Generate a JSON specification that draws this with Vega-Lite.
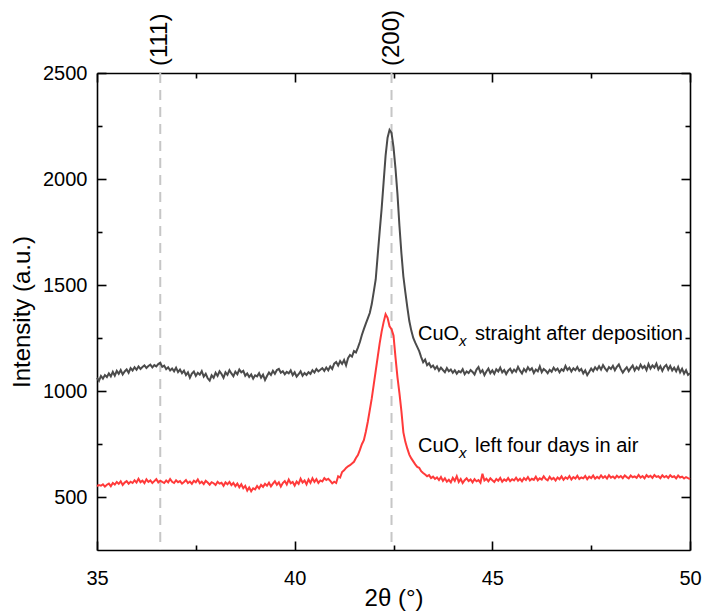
{
"$schema": "https://vega.github.io/schema/vega-lite/v6.json",
"width": 593, "height": 477, "autosize": "none",
"padding": {"left": 97, "top": 73, "right": 12, "bottom": 63},
"background": "white",
"config": {"font": "Liberation Sans", "view": {"stroke": null},
 "axis": {"grid": false, "domainColor": "black", "domainWidth": 1.6, "tickColor": "black", "tickWidth": 1.6, "labelColor": "black", "labelFontSize": 20, "titleFontSize": 24, "titleFontWeight": "normal", "titleColor": "black", "labelFlush": false}},
"resolve": {"axis": {"x": "independent", "y": "independent"}},
"datasets": {
"peaks": [{"x": 36.6, "label": "(111)"}, {"x": 42.45, "label": "(200)"}],
"notes": [{"x": 43.12, "y": 1239, "a": "CuO", "b": "x", "c": "straight after deposition"}, {"x": 43.12, "y": 713, "a": "CuO", "b": "x", "c": "left four days in air"}],
"xrd": [
{"x":35.00,"k":1062,"r":552},{"x":35.05,"k":1048,"r":556},{"x":35.10,"k":1071,"r":553},{"x":35.15,"k":1058,"r":560},{"x":35.20,"k":1075,"r":549},
{"x":35.25,"k":1066,"r":558},{"x":35.30,"k":1083,"r":563},{"x":35.35,"k":1069,"r":551},{"x":35.40,"k":1090,"r":566},{"x":35.45,"k":1072,"r":559},
{"x":35.50,"k":1095,"r":571},{"x":35.55,"k":1081,"r":562},{"x":35.60,"k":1099,"r":574},{"x":35.65,"k":1078,"r":557},{"x":35.70,"k":1092,"r":568},
{"x":35.75,"k":1102,"r":575},{"x":35.80,"k":1086,"r":563},{"x":35.85,"k":1108,"r":572},{"x":35.90,"k":1097,"r":566},{"x":35.95,"k":1112,"r":579},
{"x":36.00,"k":1100,"r":568},{"x":36.05,"k":1116,"r":586},{"x":36.10,"k":1104,"r":570},{"x":36.15,"k":1113,"r":577},{"x":36.20,"k":1121,"r":565},
{"x":36.25,"k":1109,"r":583},{"x":36.30,"k":1118,"r":571},{"x":36.35,"k":1124,"r":578},{"x":36.40,"k":1111,"r":566},{"x":36.45,"k":1122,"r":575},
{"x":36.50,"k":1116,"r":584},{"x":36.55,"k":1127,"r":569},{"x":36.60,"k":1133,"r":577},{"x":36.65,"k":1114,"r":571},{"x":36.70,"k":1120,"r":566},
{"x":36.75,"k":1103,"r":578},{"x":36.80,"k":1112,"r":569},{"x":36.85,"k":1097,"r":585},{"x":36.90,"k":1106,"r":572},{"x":36.95,"k":1093,"r":566},
{"x":37.00,"k":1110,"r":579},{"x":37.05,"k":1089,"r":570},{"x":37.10,"k":1101,"r":575},{"x":37.15,"k":1084,"r":563},{"x":37.20,"k":1096,"r":571},
{"x":37.25,"k":1075,"r":580},{"x":37.30,"k":1088,"r":566},{"x":37.35,"k":1063,"r":573},{"x":37.40,"k":1082,"r":562},{"x":37.45,"k":1092,"r":577},
{"x":37.50,"k":1071,"r":569},{"x":37.55,"k":1086,"r":583},{"x":37.60,"k":1077,"r":565},{"x":37.65,"k":1094,"r":572},{"x":37.70,"k":1068,"r":561},
{"x":37.75,"k":1081,"r":576},{"x":37.80,"k":1060,"r":568},{"x":37.85,"k":1049,"r":558},{"x":37.90,"k":1074,"r":570},{"x":37.95,"k":1062,"r":565},
{"x":38.00,"k":1086,"r":557},{"x":38.05,"k":1071,"r":572},{"x":38.10,"k":1093,"r":563},{"x":38.15,"k":1080,"r":567},{"x":38.20,"k":1062,"r":553},
{"x":38.25,"k":1088,"r":569},{"x":38.30,"k":1076,"r":560},{"x":38.35,"k":1098,"r":571},{"x":38.40,"k":1083,"r":556},{"x":38.45,"k":1070,"r":566},
{"x":38.50,"k":1091,"r":551},{"x":38.55,"k":1079,"r":563},{"x":38.60,"k":1101,"r":546},{"x":38.65,"k":1088,"r":560},{"x":38.70,"k":1095,"r":541},
{"x":38.75,"k":1072,"r":552},{"x":38.80,"k":1083,"r":530},{"x":38.85,"k":1066,"r":545},{"x":38.90,"k":1078,"r":527},{"x":38.95,"k":1058,"r":541},
{"x":39.00,"k":1074,"r":536},{"x":39.05,"k":1069,"r":552},{"x":39.10,"k":1084,"r":540},{"x":39.15,"k":1063,"r":557},{"x":39.20,"k":1077,"r":548},
{"x":39.25,"k":1052,"r":562},{"x":39.30,"k":1071,"r":553},{"x":39.35,"k":1087,"r":567},{"x":39.40,"k":1076,"r":550},{"x":39.45,"k":1095,"r":563},
{"x":39.50,"k":1081,"r":574},{"x":39.55,"k":1099,"r":558},{"x":39.60,"k":1104,"r":569},{"x":39.65,"k":1086,"r":549},{"x":39.70,"k":1093,"r":566},
{"x":39.75,"k":1079,"r":575},{"x":39.80,"k":1090,"r":559},{"x":39.85,"k":1083,"r":582},{"x":39.90,"k":1097,"r":565},{"x":39.95,"k":1075,"r":571},
{"x":40.00,"k":1088,"r":554},{"x":40.05,"k":1068,"r":573},{"x":40.10,"k":1079,"r":562},{"x":40.15,"k":1093,"r":586},{"x":40.20,"k":1072,"r":568},
{"x":40.25,"k":1085,"r":578},{"x":40.30,"k":1076,"r":560},{"x":40.35,"k":1089,"r":583},{"x":40.40,"k":1081,"r":567},{"x":40.45,"k":1098,"r":588},
{"x":40.50,"k":1087,"r":571},{"x":40.55,"k":1104,"r":584},{"x":40.60,"k":1093,"r":566},{"x":40.65,"k":1100,"r":578},{"x":40.70,"k":1108,"r":573},
{"x":40.75,"k":1095,"r":589},{"x":40.80,"k":1111,"r":580},{"x":40.85,"k":1098,"r":586},{"x":40.90,"k":1116,"r":576},{"x":40.95,"k":1104,"r":564},
{"x":41.00,"k":1129,"r":572},{"x":41.05,"k":1137,"r":566},{"x":41.10,"k":1120,"r":598},{"x":41.15,"k":1141,"r":592},{"x":41.20,"k":1128,"r":618},
{"x":41.25,"k":1146,"r":626},{"x":41.30,"k":1121,"r":637},{"x":41.35,"k":1155,"r":645},{"x":41.40,"k":1170,"r":650},{"x":41.45,"k":1162,"r":658},
{"x":41.50,"k":1188,"r":666},{"x":41.55,"k":1182,"r":684},{"x":41.60,"k":1205,"r":698},{"x":41.65,"k":1231,"r":722},{"x":41.70,"k":1264,"r":749},
{"x":41.75,"k":1292,"r":768},{"x":41.80,"k":1318,"r":808},{"x":41.85,"k":1343,"r":855},{"x":41.90,"k":1368,"r":910},{"x":41.95,"k":1410,"r":965},
{"x":42.00,"k":1468,"r":1030},{"x":42.05,"k":1526,"r":1095},{"x":42.10,"k":1640,"r":1160},{"x":42.15,"k":1752,"r":1225},{"x":42.20,"k":1860,"r":1280},
{"x":42.25,"k":1985,"r":1325},{"x":42.30,"k":2110,"r":1362},{"x":42.35,"k":2195,"r":1345},{"x":42.40,"k":2232,"r":1305},{"x":42.45,"k":2218,"r":1292},
{"x":42.50,"k":2150,"r":1262},{"x":42.55,"k":2050,"r":1160},{"x":42.60,"k":1930,"r":1065},{"x":42.65,"k":1780,"r":990},{"x":42.70,"k":1650,"r":905},
{"x":42.75,"k":1540,"r":805},{"x":42.80,"k":1465,"r":760},{"x":42.85,"k":1395,"r":728},{"x":42.90,"k":1330,"r":700},{"x":42.95,"k":1285,"r":682},
{"x":43.00,"k":1250,"r":668},{"x":43.05,"k":1228,"r":654},{"x":43.10,"k":1208,"r":642},{"x":43.15,"k":1188,"r":638},{"x":43.20,"k":1160,"r":622},
{"x":43.25,"k":1136,"r":613},{"x":43.30,"k":1148,"r":606},{"x":43.35,"k":1122,"r":598},{"x":43.40,"k":1131,"r":603},{"x":43.45,"k":1112,"r":589},
{"x":43.50,"k":1120,"r":596},{"x":43.55,"k":1104,"r":585},{"x":43.60,"k":1116,"r":592},{"x":43.65,"k":1096,"r":580},{"x":43.70,"k":1110,"r":594},
{"x":43.75,"k":1099,"r":576},{"x":43.80,"k":1089,"r":588},{"x":43.85,"k":1108,"r":572},{"x":43.90,"k":1093,"r":581},{"x":43.95,"k":1101,"r":569},
{"x":44.00,"k":1086,"r":590},{"x":44.05,"k":1098,"r":576},{"x":44.10,"k":1082,"r":598},{"x":44.15,"k":1094,"r":571},{"x":44.20,"k":1088,"r":585},
{"x":44.25,"k":1103,"r":566},{"x":44.30,"k":1079,"r":579},{"x":44.35,"k":1092,"r":588},{"x":44.40,"k":1085,"r":575},{"x":44.45,"k":1099,"r":583},
{"x":44.50,"k":1090,"r":569},{"x":44.55,"k":1078,"r":584},{"x":44.60,"k":1101,"r":574},{"x":44.65,"k":1113,"r":580},{"x":44.70,"k":1087,"r":568},
{"x":44.75,"k":1098,"r":610},{"x":44.80,"k":1075,"r":578},{"x":44.85,"k":1092,"r":586},{"x":44.90,"k":1106,"r":574},{"x":44.95,"k":1084,"r":588},
{"x":45.00,"k":1097,"r":579},{"x":45.05,"k":1081,"r":571},{"x":45.10,"k":1102,"r":585},{"x":45.15,"k":1092,"r":577},{"x":45.20,"k":1110,"r":590},
{"x":45.25,"k":1088,"r":572},{"x":45.30,"k":1099,"r":583},{"x":45.35,"k":1080,"r":576},{"x":45.40,"k":1096,"r":589},{"x":45.45,"k":1105,"r":575},
{"x":45.50,"k":1087,"r":584},{"x":45.55,"k":1101,"r":578},{"x":45.60,"k":1091,"r":591},{"x":45.65,"k":1114,"r":577},{"x":45.70,"k":1096,"r":586},
{"x":45.75,"k":1083,"r":574},{"x":45.80,"k":1104,"r":589},{"x":45.85,"k":1092,"r":580},{"x":45.90,"k":1112,"r":594},{"x":45.95,"k":1098,"r":578},
{"x":46.00,"k":1107,"r":586},{"x":46.05,"k":1085,"r":581},{"x":46.10,"k":1101,"r":596},{"x":46.15,"k":1093,"r":579},{"x":46.20,"k":1116,"r":588},
{"x":46.25,"k":1089,"r":582},{"x":46.30,"k":1104,"r":598},{"x":46.35,"k":1096,"r":585},{"x":46.40,"k":1084,"r":579},{"x":46.45,"k":1100,"r":595},
{"x":46.50,"k":1091,"r":583},{"x":46.55,"k":1110,"r":590},{"x":46.60,"k":1097,"r":578},{"x":46.65,"k":1106,"r":592},{"x":46.70,"k":1088,"r":584},
{"x":46.75,"k":1103,"r":597},{"x":46.80,"k":1095,"r":581},{"x":46.85,"k":1118,"r":593},{"x":46.90,"k":1099,"r":586},{"x":46.95,"k":1110,"r":599},
{"x":47.00,"k":1092,"r":583},{"x":47.05,"k":1107,"r":594},{"x":47.10,"k":1098,"r":587},{"x":47.15,"k":1113,"r":600},{"x":47.20,"k":1095,"r":585},
{"x":47.25,"k":1104,"r":592},{"x":47.30,"k":1083,"r":588},{"x":47.35,"k":1097,"r":599},{"x":47.40,"k":1075,"r":584},{"x":47.45,"k":1090,"r":596},
{"x":47.50,"k":1106,"r":589},{"x":47.55,"k":1094,"r":601},{"x":47.60,"k":1112,"r":586},{"x":47.65,"k":1100,"r":595},{"x":47.70,"k":1117,"r":588},
{"x":47.75,"k":1101,"r":602},{"x":47.80,"k":1122,"r":590},{"x":47.85,"k":1107,"r":598},{"x":47.90,"k":1095,"r":587},{"x":47.95,"k":1113,"r":603},
{"x":48.00,"k":1104,"r":591},{"x":48.05,"k":1119,"r":597},{"x":48.10,"k":1098,"r":588},{"x":48.15,"k":1114,"r":600},{"x":48.20,"k":1125,"r":592},
{"x":48.25,"k":1103,"r":599},{"x":48.30,"k":1087,"r":589},{"x":48.35,"k":1101,"r":602},{"x":48.40,"k":1112,"r":594},{"x":48.45,"k":1093,"r":588},
{"x":48.50,"k":1108,"r":601},{"x":48.55,"k":1120,"r":593},{"x":48.60,"k":1097,"r":597},{"x":48.65,"k":1113,"r":590},{"x":48.70,"k":1102,"r":604},
{"x":48.75,"k":1124,"r":592},{"x":48.80,"k":1108,"r":599},{"x":48.85,"k":1118,"r":588},{"x":48.90,"k":1099,"r":603},{"x":48.95,"k":1127,"r":594},
{"x":49.00,"k":1106,"r":600},{"x":49.05,"k":1121,"r":590},{"x":49.10,"k":1110,"r":604},{"x":49.15,"k":1129,"r":595},{"x":49.20,"k":1102,"r":598},
{"x":49.25,"k":1117,"r":589},{"x":49.30,"k":1095,"r":602},{"x":49.35,"k":1114,"r":593},{"x":49.40,"k":1123,"r":599},{"x":49.45,"k":1101,"r":590},
{"x":49.50,"k":1118,"r":603},{"x":49.55,"k":1097,"r":594},{"x":49.60,"k":1110,"r":598},{"x":49.65,"k":1093,"r":588},{"x":49.70,"k":1114,"r":601},
{"x":49.75,"k":1088,"r":592},{"x":49.80,"k":1105,"r":596},{"x":49.85,"k":1082,"r":587},{"x":49.90,"k":1098,"r":594},{"x":49.95,"k":1076,"r":589},
{"x":50.00,"k":1084,"r":585}
]},
"layer": [
{"data": {"name": "peaks"},
 "mark": {"type": "rule", "color": "#c6c6c6", "strokeWidth": 2, "strokeDash": [10, 7]},
 "encoding": {"x": {"field": "x", "type": "quantitative", "scale": {"domain": [35, 50], "nice": false},
   "axis": {"orient": "top", "values": [35, 37.5, 40, 42.5, 45, 47.5, 50], "labels": false, "title": null,
     "tickSize": {"condition": {"test": "datum.value % 5 === 0", "value": -9}, "value": -5}}}}},
{"data": {"name": "xrd"},
 "transform": [{"fold": ["k", "r"], "as": ["series", "intensity"]}],
 "mark": {"type": "line", "strokeWidth": 2},
 "encoding": {
  "x": {"field": "x", "type": "quantitative", "scale": {"domain": [35, 50], "nice": false},
   "axis": {"orient": "bottom", "values": [35, 37.5, 40, 42.5, 45, 47.5, 50], "title": "2θ (°)",
     "labelExpr": "datum.value % 5 === 0 ? format(datum.value, 'd') : ''", "labelPadding": 27, "titlePadding": -2,
     "tickSize": {"condition": {"test": "datum.value % 5 === 0", "value": -9}, "value": -5}}},
  "y": {"field": "intensity", "type": "quantitative", "scale": {"domain": [250, 2500], "nice": false, "zero": false},
   "axis": {"orient": "left", "values": [500, 750, 1000, 1250, 1500, 1750, 2000, 2250, 2500], "title": "Intensity (a.u.)",
     "labelExpr": "datum.value % 500 === 0 ? format(datum.value, 'd') : ''", "labelPadding": 19, "titlePadding": 8,
     "tickSize": {"condition": {"test": "datum.value % 500 === 0", "value": -9}, "value": -5}}},
  "color": {"field": "series", "type": "nominal", "scale": {"domain": ["k", "r"], "range": ["#4b4b4b", "#ff3a3a"]}, "legend": null}}},
{"data": {"name": "peaks"},
 "mark": {"type": "text", "angle": 270, "align": "left", "baseline": "middle", "dx": 7, "fontSize": 24, "color": "black"},
 "encoding": {"x": {"field": "x", "type": "quantitative", "axis": null},
  "y": {"datum": 2500, "axis": null},
  "text": {"field": "label"}}},
{"data": {"name": "notes"},
 "mark": {"type": "text", "align": "left", "baseline": "alphabetic", "fontSize": 20, "color": "black"},
 "encoding": {"x": {"field": "x", "type": "quantitative", "axis": null},
  "y": {"field": "y", "type": "quantitative",
   "axis": {"orient": "right", "values": [500, 750, 1000, 1250, 1500, 1750, 2000, 2250, 2500], "labels": false, "title": null,
     "tickSize": {"condition": {"test": "datum.value % 500 === 0", "value": -9}, "value": -5}}},
  "text": {"field": "a"}}},
{"data": {"name": "notes"},
 "mark": {"type": "text", "align": "left", "baseline": "alphabetic", "fontSize": 15, "fontStyle": "italic", "dx": 41, "dy": 6, "color": "black"},
 "encoding": {"x": {"field": "x", "type": "quantitative", "axis": null},
  "y": {"field": "y", "type": "quantitative", "axis": null},
  "text": {"field": "b"}}},
{"data": {"name": "notes"},
 "mark": {"type": "text", "align": "left", "baseline": "alphabetic", "fontSize": 20, "dx": 57, "color": "black"},
 "encoding": {"x": {"field": "x", "type": "quantitative", "axis": null},
  "y": {"field": "y", "type": "quantitative", "axis": null},
  "text": {"field": "c"}}}
]
}
